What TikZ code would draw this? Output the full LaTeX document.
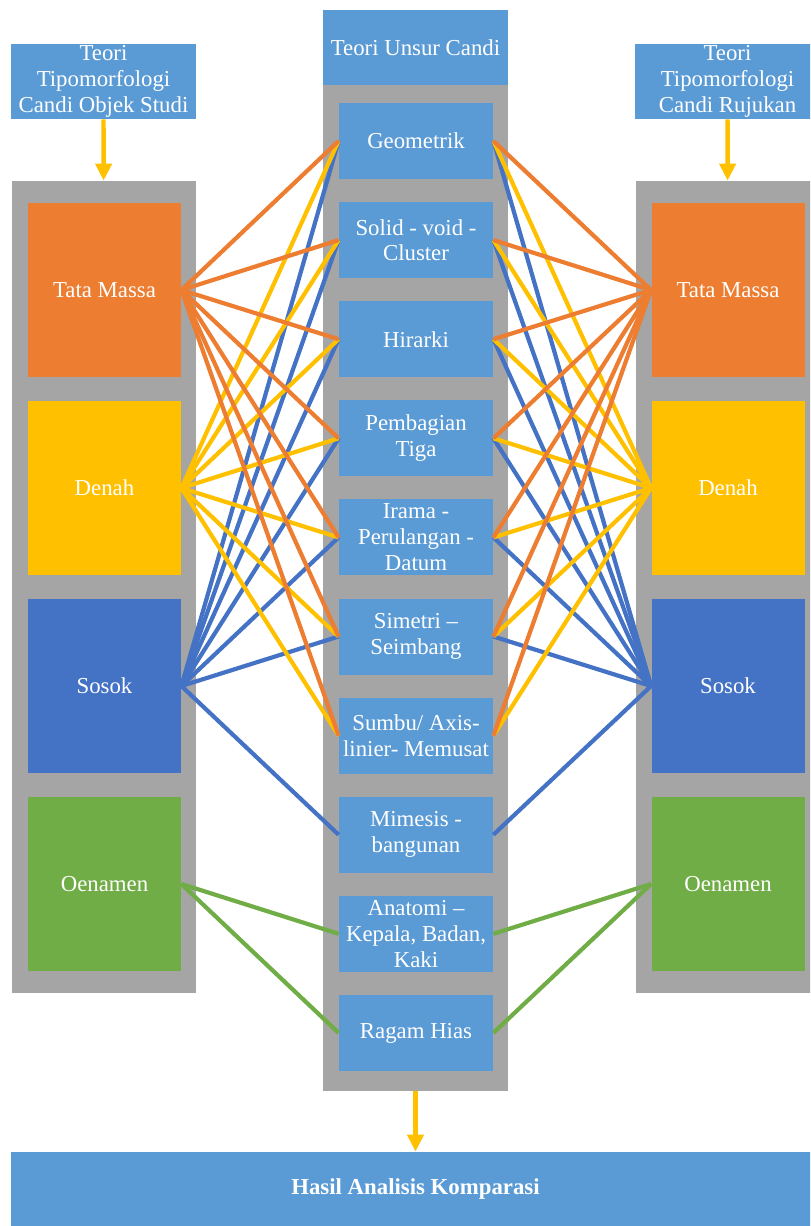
\documentclass[tikz,border=0pt]{standalone}
\usepackage{fontspec}
\setmainfont{Liberation Serif}
\usetikzlibrary{arrows.meta,positioning}
\definecolor{boxblue}{HTML}{5B9BD5}
\definecolor{panelgray}{HTML}{A5A5A5}
\definecolor{massaorange}{HTML}{ED7D31}
\definecolor{denahyellow}{HTML}{FFC000}
\definecolor{sosokblue}{HTML}{4472C4}
\definecolor{ornamengreen}{HTML}{70AD47}

\begin{document}
\begin{tikzpicture}[x=0.5pt,y=-0.5pt,
    every node/.style={text=white,align=center,inner sep=0pt,
      font=\fontsize{11.4}{12.9}\selectfont},
    teori/.style={fill=boxblue,minimum width=92.5pt,minimum height=37.5pt},
    panel/.style={fill=panelgray,minimum width=92pt},
    tipe/.style={minimum width=76.5pt,minimum height=87pt},
    unsur/.style={fill=boxblue,minimum width=77pt,minimum height=38pt},
    flow/.style={draw=denahyellow,line width=2.2pt,-{Triangle[length=8.5pt,width=8pt]}},
    link/.style={line width=2.1pt}]
  \path[use as bounding box,clip] (0,0) rectangle (810,1226);

  % theory boxes on top
  \node[teori] (teori-l) at (103.5,81.5) {Teori\\Tipomorfologi\\Candi Objek Studi};
  \node[teori] (teori-c) at (415.5,47.5) {Teori Unsur Candi};
  \node[teori] (teori-r) at (727.5,81.5) {Teori\\Tipomorfologi\\Candi Rujukan};

  % grey panels
  \node[panel,minimum height=406pt] (panel-l) at (104,587) {};
  \node[panel,minimum height=406pt] (panel-r) at (728,587) {};
  \node[panel,minimum width=92.5pt,minimum height=503pt] (panel-c) at (415.5,588) {};

  % tipomorfologi boxes, both sides
  \foreach \side/\x in {l/104.5,r/728} {
    \node[tipe,fill=massaorange] (tm-\side) at (\x,290) {Tata Massa};
    \node[tipe,fill=denahyellow] (dn-\side) at (\x,488) {Denah};
    \node[tipe,fill=sosokblue] (ss-\side) at (\x,686) {Sosok};
    \node[tipe,fill=ornamengreen] (on-\side) at (\x,884) {Oenamen};
  }

  % unsur candi boxes
  \foreach \i/\t in {1/Geometrik, 2/{Solid - void -\\Cluster}, 3/Hirarki,
      4/{Pembagian\\Tiga}, 5/{Irama -\\Perulangan -\\Datum}, 6/{Simetri –\\Seimbang},
      7/{Sumbu/ Axis-\\linier- Memusat}, 8/{Mimesis -\\bangunan},
      9/{Anatomi –\\Kepala, Badan,\\Kaki}, 10/Ragam Hias}
    \node[unsur] (c\i) at (416,{141+(\i-1)*99.1}) {\t};

  % result
  \node[teori,minimum width=404.5pt] (hasil) at (415.5,1189.5) {\textbf{Hasil Analisis Komparasi}};

  % arrows
  \draw[flow] (teori-l) -- (panel-l);
  \draw[flow] (teori-r) -- (panel-r);
  \draw[flow] (panel-c) -- (hasil);

  % links
  \foreach \side/\a/\b in {l/east/west,r/west/east} {
    \foreach \i in {9,10}
      \draw[link,ornamengreen] (on-\side.\a) -- (c\i.\b);
    \foreach \i in {1,...,6,8}
      \draw[link,sosokblue] (ss-\side.\a) -- (c\i.\b);
    \foreach \i in {1,...,7}
      \draw[link,denahyellow] (dn-\side.\a) -- (c\i.\b);
    \foreach \i in {1,...,7}
      \draw[link,massaorange] (tm-\side.\a) -- (c\i.\b);
  }
\end{tikzpicture}
\end{document}
